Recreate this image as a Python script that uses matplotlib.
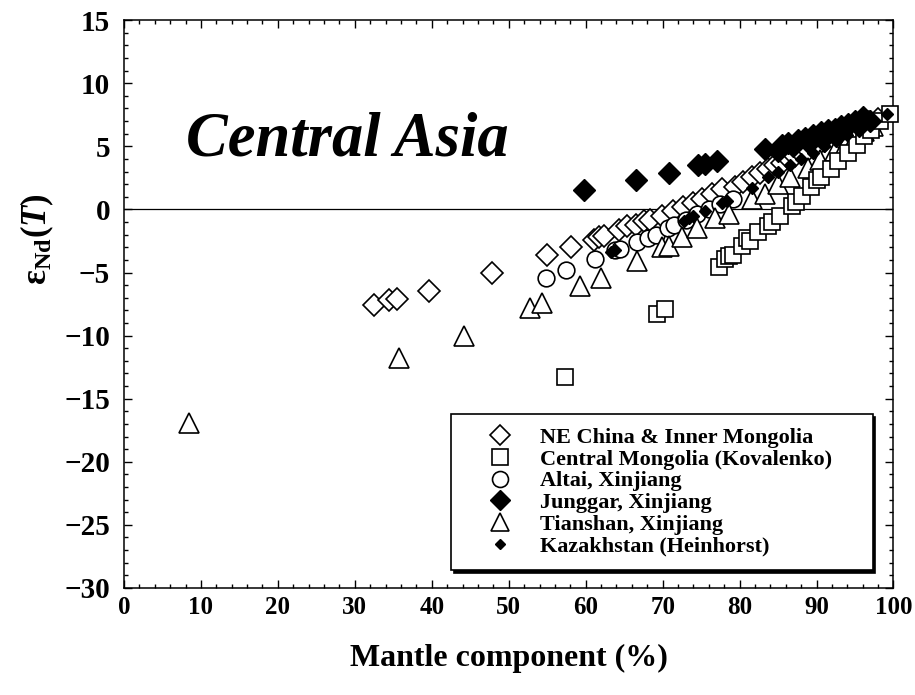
import matplotlib
matplotlib.use("Agg")
import matplotlib.pyplot as plt
from matplotlib.ticker import MultipleLocator
from matplotlib.lines import Line2D

# Mantle component (%) vs eps_Nd(T)
ne_china_x = [32.5, 34.5, 35.5, 39.7, 47.8, 55.0, 58.1, 61.1, 61.7, 62.4, 64.3, 65.4, 66.5,
              67.6, 68.4, 69.9, 71.4, 72.7, 74.0, 75.1, 76.4, 77.7, 79.4, 80.5, 81.6, 82.6,
              83.7, 84.6, 85.5, 86.4, 87.2, 88.0, 88.9, 90.0, 91.1, 92.2, 93.2, 94.3, 95.6,
              96.8, 98.0]
ne_china_y = [-7.6, -7.2, -7.1, -6.5, -5.0, -3.6, -3.0, -2.4, -2.2, -2.1, -1.6, -1.3, -1.2,
              -0.9, -0.8, -0.5, -0.1, 0.2, 0.5, 0.8, 1.2, 1.6, 1.8, 2.2, 2.6, 2.9,
              3.2, 3.5, 3.7, 4.0, 4.2, 4.5, 4.7, 5.0, 5.4, 5.7, 5.9, 6.2, 6.6,
              6.9, 7.2]

mongolia_x = [57.3, 69.3, 70.3, 77.3, 78.1, 78.6, 79.2, 80.3, 81.0, 81.4, 82.4, 83.7, 84.2,
              85.3, 86.8, 87.3, 88.1, 89.3, 90.0, 90.6, 91.9, 92.8, 94.1, 95.2, 96.2, 97.1,
              98.2, 99.5]
mongolia_y = [-13.3, -8.3, -7.9, -4.6, -3.9, -3.7, -3.6, -2.9, -2.3, -2.5, -1.8, -1.3, -1.0,
              -0.5, 0.3, 0.6, 1.1, 1.8, 2.3, 2.6, 3.2, 3.8, 4.5, 5.1, 5.8, 6.3,
              7.0, 7.6]

altai_x = [54.9, 57.4, 61.2, 63.8, 64.5, 66.7, 68.1, 69.1, 70.7, 71.5, 73.0, 74.5, 76.0, 77.5, 79.2]
altai_y = [-5.4, -4.8, -3.9, -3.2, -3.1, -2.6, -2.3, -2.0, -1.5, -1.2, -0.8, -0.4, 0.0, 0.4, 0.8]

junggar_x = [59.8, 66.5, 70.8, 74.6, 75.5, 77.0, 83.3, 85.0, 85.5, 86.3, 87.0, 87.6, 88.5,
             89.0, 89.6, 90.6, 91.0, 91.5, 92.4, 93.0, 93.2, 94.1, 95.0, 95.5, 96.0, 97.0]
junggar_y = [1.5, 2.3, 2.9, 3.5, 3.6, 3.8, 4.8, 4.6, 5.1, 5.3, 5.0, 5.5, 5.7,
             5.3, 5.9, 6.1, 5.7, 6.3, 6.4, 6.1, 6.6, 6.8, 7.0, 6.6, 7.3, 7.0]

tianshan_x = [8.5, 35.8, 44.2, 52.7, 54.3, 59.2, 62.0, 66.7, 69.9, 70.8, 72.5, 74.5, 76.8,
              78.6, 81.6, 83.3, 85.0, 86.5, 88.9, 90.5, 92.4, 93.8, 95.0, 96.2, 97.3]
tianshan_y = [-16.9, -11.8, -10.0, -7.8, -7.4, -6.1, -5.4, -4.1, -3.0, -2.9, -2.2, -1.5, -0.7,
              -0.4, 0.8, 1.2, 2.0, 2.6, 3.3, 3.9, 4.6, 5.2, 5.7, 6.2, 6.6]

kazakh_x = [63.3, 63.8, 72.8, 73.4, 74.0, 75.5, 77.7, 78.4, 81.6, 83.7, 85.0, 86.5, 88.0,
            89.5, 91.0, 92.5, 94.0, 95.5, 97.0, 99.1]
kazakh_y = [-3.4, -3.2, -0.9, -0.7, -0.5, -0.1, 0.5, 0.7, 1.7, 2.6, 3.0, 3.5, 4.0,
            4.5, 5.0, 5.4, 5.9, 6.3, 6.8, 7.6]

labels = ["NE China & Inner Mongolia", "Central Mongolia (Kovalenko)", "Altai, Xinjiang",
          "Junggar, Xinjiang", "Tianshan, Xinjiang", "Kazakhstan (Heinhorst)"]

plt.rcParams['font.family'] = ['Liberation Serif', 'DejaVu Serif']
plt.rcParams['font.weight'] = 'bold'
plt.rcParams['mathtext.fontset'] = 'custom'
plt.rcParams['mathtext.rm'] = 'Liberation Serif:bold'
plt.rcParams['mathtext.it'] = 'Liberation Serif:bold:italic'
plt.rcParams['mathtext.bf'] = 'Liberation Serif:bold'

fig = plt.figure(figsize=(9.15, 6.95), dpi=100)
ax = fig.add_axes([0.1355, 0.154, 0.841, 0.817])

ax.axhline(0, color='black', lw=0.9, zorder=1)

open_kw = dict(linestyle='none', markerfacecolor='white', markeredgecolor='black',
               markeredgewidth=1.2, clip_on=False)
ax.plot(ne_china_x, ne_china_y, marker='D', markersize=11, zorder=3, **open_kw)
ax.plot(altai_x, altai_y, marker='o', markersize=12, zorder=4, **open_kw)
ax.plot(tianshan_x, tianshan_y, marker='^', markersize=14, zorder=5, **open_kw)
ax.plot(mongolia_x, mongolia_y, marker='s', markersize=12, zorder=6, **open_kw)
ax.plot(junggar_x, junggar_y, linestyle='none', marker='D', markersize=11, color='black',
        zorder=7, clip_on=False)
ax.plot(kazakh_x, kazakh_y, linestyle='none', marker='D', markersize=6, color='black',
        zorder=8, clip_on=False)

ax.set_xlim(0, 100)
ax.set_ylim(-30, 15)
ax.xaxis.set_major_locator(MultipleLocator(10))
ax.xaxis.set_minor_locator(MultipleLocator(2))
ax.yaxis.set_major_locator(MultipleLocator(5))
ax.yaxis.set_minor_locator(MultipleLocator(1))
ax.tick_params(which='both', direction='in', top=True, right=True, width=1.0)
ax.tick_params(which='major', length=6)
ax.tick_params(which='minor', length=3)
ax.tick_params(axis='x', which='major', labelsize=18, pad=6)
ax.tick_params(axis='y', which='major', labelsize=21, pad=10)
for s in ax.spines.values():
    s.set_linewidth(1.1)

ax.set_xlabel("Mantle component (%)", fontsize=23, fontweight='bold', labelpad=18)
ax.set_ylabel(r"$\mathrm{\varepsilon_{Nd}}(T)$", fontsize=25)
ax.yaxis.set_label_coords(-0.088, 0.615)

ax.text(8.0, 4.3, "Central Asia", fontsize=45, fontweight='bold', fontstyle='italic',
        ha='left', va='baseline')

handles = [
    Line2D([], [], linestyle='none', marker='D', markersize=10, markerfacecolor='white',
           markeredgecolor='black', markeredgewidth=1.2),
    Line2D([], [], linestyle='none', marker='s', markersize=11.5, markerfacecolor='white',
           markeredgecolor='black', markeredgewidth=1.2),
    Line2D([], [], linestyle='none', marker='o', markersize=11.5, markerfacecolor='white',
           markeredgecolor='black', markeredgewidth=1.2),
    Line2D([], [], linestyle='none', marker='D', markersize=10, color='black'),
    Line2D([], [], linestyle='none', marker='^', markersize=13, markerfacecolor='white',
           markeredgecolor='black', markeredgewidth=1.2),
    Line2D([], [], linestyle='none', marker='D', markersize=5.5, color='black'),
]
leg = ax.legend(handles, labels, loc='lower left', bbox_to_anchor=(0.425, 0.032, 0.548, 0.3),
                mode='expand', borderaxespad=0, borderpad=0.6, handlelength=3.2,
                handletextpad=0.2, labelspacing=0.05, fancybox=False, framealpha=1,
                edgecolor='black', prop={'size': 16, 'weight': 'bold'},
                shadow={'facecolor': 'black', 'edgecolor': 'black', 'alpha': 1})
leg.get_frame().set_linewidth(1.2)
leg.set_zorder(10)

fig.savefig("out.png", dpi=100)
